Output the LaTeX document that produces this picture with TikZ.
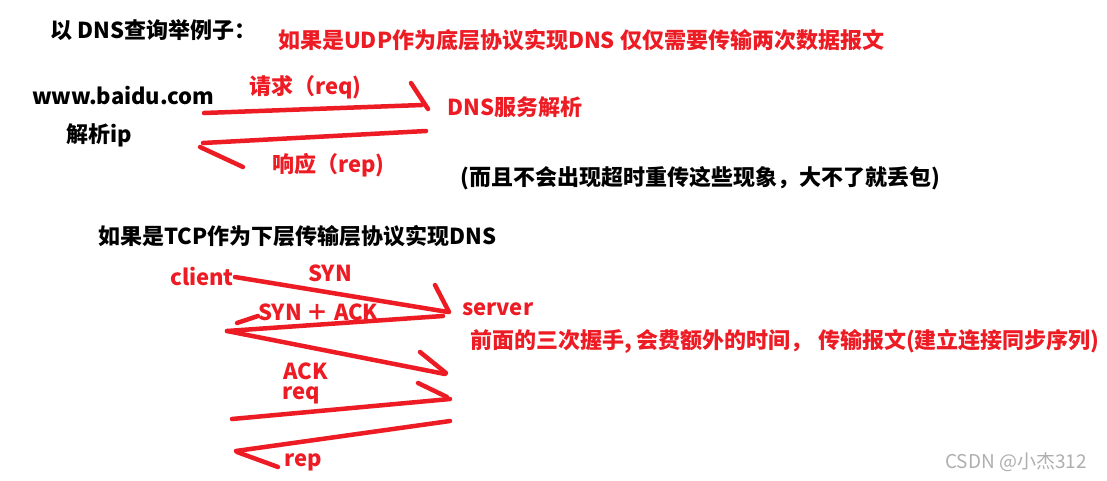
\documentclass[tikz,border=0pt]{standalone}
\usepackage{fontspec}
\setmainfont{Noto Sans CJK SC}
\definecolor{pred}{RGB}{237,28,36}
\definecolor{wmark}{RGB}{175,175,175}
\begin{document}
\begin{tikzpicture}[x=1pt,y=-1pt,
  txt/.style={anchor=west,inner sep=0pt,font=\bfseries\fontsize{22}{26}\selectfont},
  rtxt/.style={txt,text=pred},
  btxt/.style={txt,text=black},
  stroke/.style={draw=pred,line width=4.5pt,line cap=round,line join=round}]
\useasboundingbox[fill=white] (0,0) rectangle (1107,480);
% texts
\node[btxt] (title) at (50,30) {以 DNS查询举例子：};
\node[rtxt] (udp) at (278,40) {如果是UDP作为底层协议实现DNS 仅仅需要传输两次数据报文};
\node[btxt] (www) at (32,96) {www.baidu.com};
\node[btxt] (jx) at (66,135) {解析ip};
\node[rtxt] (req1) at (249,87) {请求（req)};
\node[rtxt] (dns) at (447,107) {DNS服务解析};
\node[rtxt] (rep1) at (272,165) {响应（rep)};
\node[btxt] (note) at (460,178) {(而且不会出现超时重传这些现象，大不了就丢包)};
\node[btxt] (tcp) at (98,236) {如果是TCP作为下层传输层协议实现DNS};
\node[rtxt] (client) at (170,277) {client};
\node[rtxt] (syn) at (308,273) {SYN};
\node[rtxt] (server) at (462,309) {server};
\node[rtxt] (synack) at (258,312) {SYN ＋ ACK};
\node[rtxt] (pre) at (470,341) {前面的三次握手, 会费额外的时间， 传输报文(建立连接同步序列)};
\node[rtxt] (ack) at (283,371) {ACK};
\node[rtxt] (req2) at (282,395) {req};
\node[rtxt] (rep2) at (284,462) {rep};
\node[anchor=west,inner sep=0pt,text=wmark,font=\fontsize{19}{22}\selectfont] (csdn) at (945,462) {CSDN @小杰312};
% coordinates
\coordinate (u1) at (204,113); \coordinate (u2) at (422,105);
\coordinate (ub1) at (411,83); \coordinate (ub2) at (428,109);
\coordinate (u3) at (426,131); \coordinate (u4) at (203,143);
\coordinate (ub3) at (200,147); \coordinate (ub4) at (243,167);
\coordinate (t1) at (235,277); \coordinate (t2) at (448,312);
\coordinate (tb1) at (435,285); \coordinate (tb2) at (449,312);
\coordinate (t3) at (443,316); \coordinate (t4) at (227,331);
\coordinate (tb3) at (237,323); \coordinate (tb4) at (258,316);
\coordinate (t5) at (445,374);
\coordinate (tb5) at (420,352); \coordinate (tb6) at (446,373);
\coordinate (t6) at (232,419); \coordinate (t7) at (450,399);
\coordinate (tb7) at (418,383); \coordinate (tb8) at (447,397);
\coordinate (t8) at (450,421); \coordinate (t9) at (236,451);
\coordinate (tb9) at (237,452); \coordinate (tb10) at (278,467);
% strokes
\draw[stroke] (u1) -- (u2); \draw[stroke] (ub1) -- (ub2);
\draw[stroke] (u3) -- (u4); \draw[stroke] (ub3) -- (ub4);
\draw[stroke] (t1) -- (t2); \draw[stroke] (tb1) -- (tb2);
\draw[stroke] (t3) -- (t4); \draw[stroke] (tb3) -- (tb4);
\draw[stroke] (t4) -- (t5); \draw[stroke] (tb5) -- (tb6);
\draw[stroke] (t6) -- (t7); \draw[stroke] (tb7) -- (tb8);
\draw[stroke] (t8) -- (t9); \draw[stroke] (tb9) -- (tb10);
\end{tikzpicture}
\end{document}
